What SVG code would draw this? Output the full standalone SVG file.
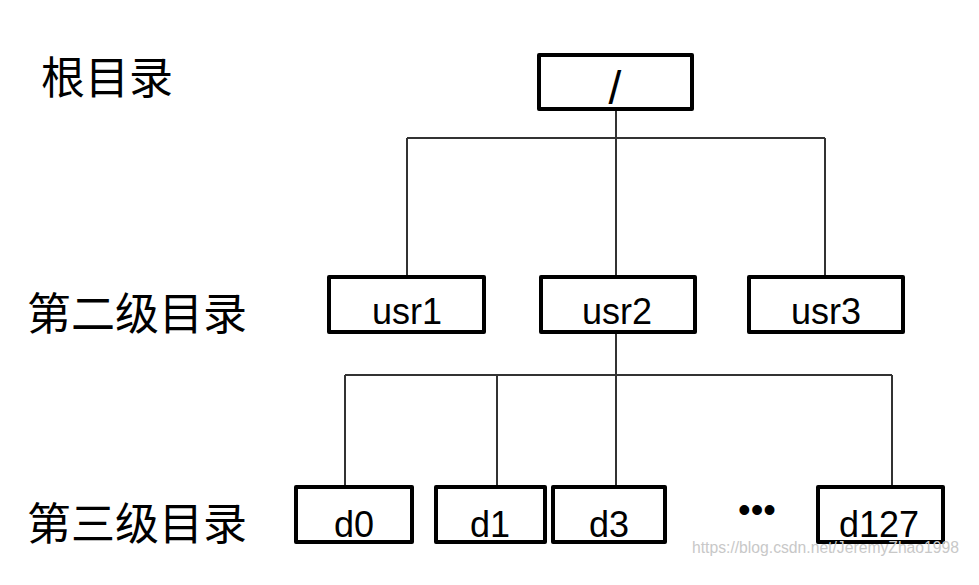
<svg xmlns="http://www.w3.org/2000/svg" width="979" height="585" viewBox="0 0 979 585">
<style>
.box{fill:#fff;stroke:#000;stroke-width:4;stroke-linejoin:round}
.lbl{font-family:"Liberation Sans",Arial,sans-serif;font-size:36px;fill:#000;text-anchor:middle}
.cjk{font-family:"Noto Sans CJK SC","Noto Sans",sans-serif;font-size:44px;fill:#000}
.conn{stroke:#333;stroke-width:2;fill:none}
</style>
<rect width="979" height="585" fill="#fff"/>
<g id="connectors">
<line class="conn" x1="616" y1="109" x2="616" y2="277"/>
<line class="conn" x1="407" y1="138" x2="825" y2="138"/>
<line class="conn" x1="407" y1="138" x2="407" y2="277"/>
<line class="conn" x1="825" y1="138" x2="825" y2="277"/>
<line class="conn" x1="616" y1="332" x2="616" y2="487"/>
<line class="conn" x1="345" y1="375" x2="892" y2="375"/>
<line class="conn" x1="345" y1="375" x2="345" y2="487"/>
<line class="conn" x1="497" y1="375" x2="497" y2="487"/>
<line class="conn" x1="892" y1="375" x2="892" y2="487"/>
</g>
<g id="label-root"><text class="cjk" x="41" y="94">根目录</text></g>
<g id="label-level2"><text class="cjk" x="27" y="330">第二级目录</text></g>
<g id="label-level3"><text class="cjk" x="27" y="540">第三级目录</text></g>
<g id="node-root">
<rect class="box" x="539" y="55" width="153" height="54"/>
<text class="lbl" x="615" y="104" style="font-size:46px">/</text>
</g>
<g id="node-usr1">
<rect class="box" x="329" y="277" width="155" height="55"/>
<text class="lbl" x="407" y="324">usr1</text>
</g>
<g id="node-usr2">
<rect class="box" x="541" y="277" width="154" height="55"/>
<text class="lbl" x="617" y="324">usr2</text>
</g>
<g id="node-usr3">
<rect class="box" x="749" y="277" width="154" height="55"/>
<text class="lbl" x="826" y="324">usr3</text>
</g>
<g id="node-d0">
<rect class="box" x="296" y="487" width="116" height="55"/>
<text class="lbl" x="354" y="537">d0</text>
</g>
<g id="node-d1">
<rect class="box" x="436" y="487" width="109" height="55"/>
<text class="lbl" x="490" y="537">d1</text>
</g>
<g id="node-d3">
<rect class="box" x="553" y="487" width="112" height="55"/>
<text class="lbl" x="609" y="537">d3</text>
</g>
<g id="ellipsis"><text class="lbl" x="757" y="522">•••</text></g>
<g id="node-d127">
<rect class="box" x="818" y="487" width="125" height="55"/>
<text class="lbl" x="879" y="537">d127</text>
</g>
<text x="692" y="553" textLength="267" lengthAdjust="spacingAndGlyphs" style="font-family:'Liberation Sans',Arial,sans-serif;font-size:16px;fill:#c8c8c8">https://blog.csdn.net/JeremyZhao1998</text>
</svg>
